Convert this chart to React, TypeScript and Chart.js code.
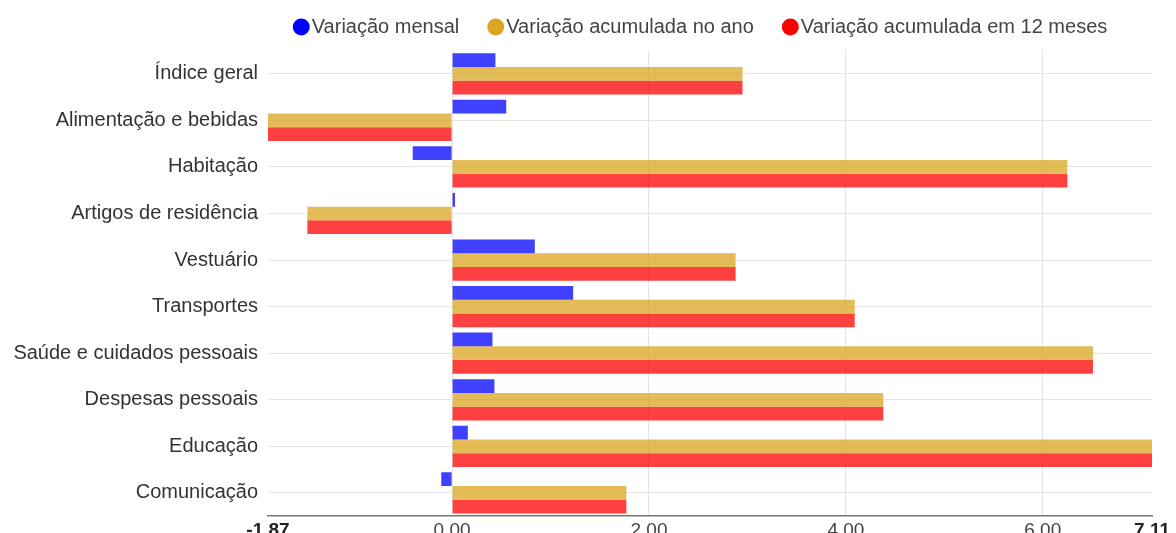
import React, { useEffect, useRef } from 'react';
import { Chart, registerables } from 'chart.js';

Chart.register(...registerables);

const categories = [
  'Índice geral',
  'Alimentação e bebidas',
  'Habitação',
  'Artigos de residência',
  'Vestuário',
  'Transportes',
  'Saúde e cuidados pessoais',
  'Despesas pessoais',
  'Educação',
  'Comunicação',
];

const variacaoMensal = [0.44, 0.55, -0.4, 0.03, 0.84, 1.23, 0.41, 0.43, 0.16, -0.11];
const variacaoAno = [2.95, -1.87, 6.25, -1.47, 2.88, 4.09, 6.51, 4.38, 7.11, 1.77];
const variacao12Meses = [2.95, -1.87, 6.25, -1.47, 2.88, 4.09, 6.51, 4.38, 7.11, 1.77];

const seriesNames = ['Variação mensal', 'Variação acumulada no ano', 'Variação acumulada em 12 meses'];
const solidColors = ['#0000ff', '#daa520', '#ff0000'];
const barColors = ['rgba(0,0,255,0.75)', 'rgba(218,165,32,0.75)', 'rgba(255,0,0,0.75)'];

const xMin = -1.87;
const xMax = 7.11;
const xStep = 2;

const FONT = '"Liberation Sans", Arial, sans-serif';

const legendShift = {
  id: 'legendShift',
  afterLayout(c: any) {
    if (c.legend) {
      c.legend.left -= 6;
      c.legend.right -= 6;
    }
  },
};

export default function App() {
  const ref = useRef<HTMLCanvasElement>(null);

  useEffect(() => {
    document.body.style.overflow = 'hidden';
    const seriesValues = [variacaoMensal, variacaoAno, variacao12Meses];
    const chart = new Chart(ref.current!, {
      type: 'bar',
      data: {
        labels: categories,
        datasets: seriesValues.map((vals, i) => ({
          label: seriesNames[i],
          data: vals,
          backgroundColor: barColors[i],
          borderWidth: 0,
          categoryPercentage: 0.885,
          barPercentage: 1,
        })),
      },
      plugins: [legendShift],
      options: {
        indexAxis: 'y',
        animation: false,
        responsive: true,
        maintainAspectRatio: false,
        layout: { padding: { top: -27, left: 0, right: 0, bottom: 0 } },
        plugins: {
          tooltip: { enabled: false },
          title: {
            display: true,
            text: '',
            weight: 500,
            position: 'top',
            font: { size: 1, lineHeight: 1 },
            padding: { top: 0, bottom: 2.5 },
          },
          legend: {
            position: 'top',
            fullSize: false,
            labels: {
              usePointStyle: true,
              boxWidth: 1,
              boxHeight: 12,
              padding: 36,
              color: '#444',
              font: { family: FONT, size: 20 },
              generateLabels: (c: any) =>
                c.data.datasets.map((d: any, i: number) => ({
                  text: d.label,
                  fillStyle: solidColors[i],
                  strokeStyle: solidColors[i],
                  lineWidth: 0,
                  pointStyle: 'circle',
                  hidden: false,
                  datasetIndex: i,
                  fontColor: '#444',
                })),
            },
          },
        },
        scales: {
          x: {
            type: 'linear',
            min: xMin,
            max: xMax,
            grid: {
              drawTicks: false,
              color: (ctx: any) =>
                ctx.tick && (ctx.tick.value === xMin || ctx.tick.value === xMax) ? 'rgba(0,0,0,0)' : '#e4e4e4',
            },
            border: { display: true, color: '#777', width: 1.5 },
            ticks: {
              stepSize: xStep,
              autoSkip: false,
              maxRotation: 0,
              padding: 3,
              color: (ctx: any) =>
                ctx.tick && (ctx.tick.value === xMin || ctx.tick.value === xMax) ? '#222' : '#444',
              font: (ctx: any) => ({
                family: FONT,
                size: 19,
                weight: ctx.tick && (ctx.tick.value === xMin || ctx.tick.value === xMax) ? 'bold' : 'normal',
              }),
              callback: (v: any) => Number(v).toFixed(2),
            },
          },
          y: {
            grid: { drawTicks: false, offset: false, color: '#e6e6e6' },
            border: { display: false },
            ticks: {
              padding: 10,
              color: '#333',
              font: { family: FONT, size: 20 },
            },
            afterFit: (s: any) => {
              s.width = 260;
            },
          },
        },
      },
    });
    return () => chart.destroy();
  }, []);

  return (
    <div style={{ width: 1165, height: 537, position: 'relative' }}>
      <canvas ref={ref} />
    </div>
  );
}
